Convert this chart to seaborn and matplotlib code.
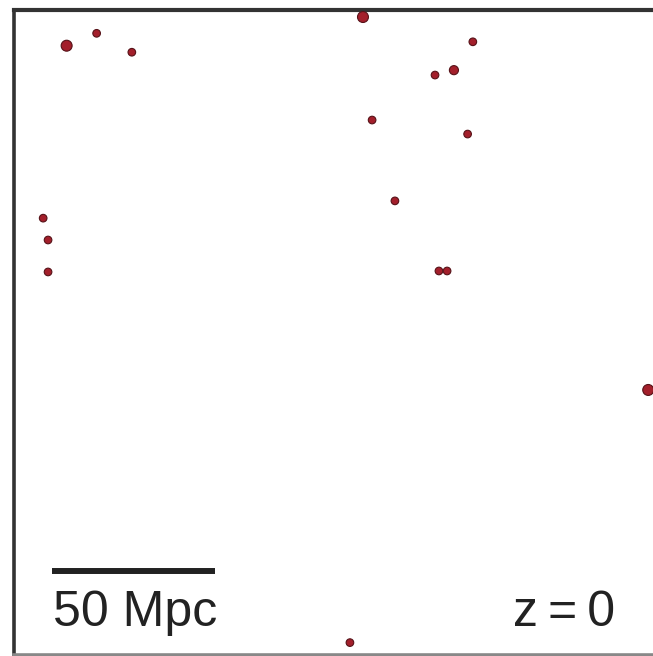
import matplotlib
matplotlib.use("Agg")
import matplotlib.pyplot as plt
import seaborn as sns
import pandas as pd

# Halo positions in a 200 Mpc slice (comoving Mpc)
x_mpc = [16.3, 25.5, 36.3, 107.2, 140.9, 129.3, 135.1, 110.0, 139.3,
         9.1, 10.6, 10.6, 117.0, 130.5, 133.0, 194.7, 103.2]
y_mpc = [186.9, 190.7, 184.9, 195.7, 188.1, 177.9, 179.4, 164.1, 159.8,
         134.0, 127.3, 117.5, 139.3, 117.8, 117.8, 81.3, 3.8]
# relative halo mass class (1 = small, 2 = large)
mass_class = [2, 1, 1, 2, 1, 1, 1.4, 1, 1, 1, 1, 1, 1, 1, 1, 2, 1]

scale_len = 50
scale_label = "50 Mpc"
redshift_label = "z\u2009=\u20090"

df = pd.DataFrame({"x": x_mpc, "y": y_mpc, "m": mass_class})

sns.set_style("white")
plt.rcParams["font.family"] = ["Liberation Sans", "DejaVu Sans"]

W, H = 653, 656
fig = plt.figure(figsize=(W / 100, H / 100), dpi=100)
px_per_mpc = 3.26
ax_w = 200 * px_per_mpc
ax_h = 645
ax = fig.add_axes([13.5 / W, 1 - (10 + ax_h) / H, ax_w / W, ax_h / H])

sns.scatterplot(data=df, x="x", y="y", size="m", sizes=(30, 62),
                color="#a31f2b", edgecolor="#561218", linewidth=0.8,
                legend=False, ax=ax, zorder=3, clip_on=False)

ax.set_xlim(0, 200)
ax.set_ylim(0, ax_h / px_per_mpc)
ax.set_xticks([])
ax.set_yticks([])
ax.set_xlabel("")
ax.set_ylabel("")
for s in ax.spines.values():
    s.set_color("#333333")
    s.set_linewidth(2.6)
ax.spines["top"].set_linewidth(3.0)
ax.spines["bottom"].set_color("#888888")

# scale bar
x0 = 11.8
ax.plot([x0, x0 + scale_len], [25.8, 25.8], color="#222222", lw=4.3,
        solid_capstyle="butt")
ax.text(x0 + 0.2, 8.9, scale_label, fontsize=36, color="#222222",
        ha="left", va="baseline")
ax.text(184.5, 8.9, redshift_label, fontsize=36, color="#222222",
        ha="right", va="baseline")

fig.savefig("out.png", dpi=100)
